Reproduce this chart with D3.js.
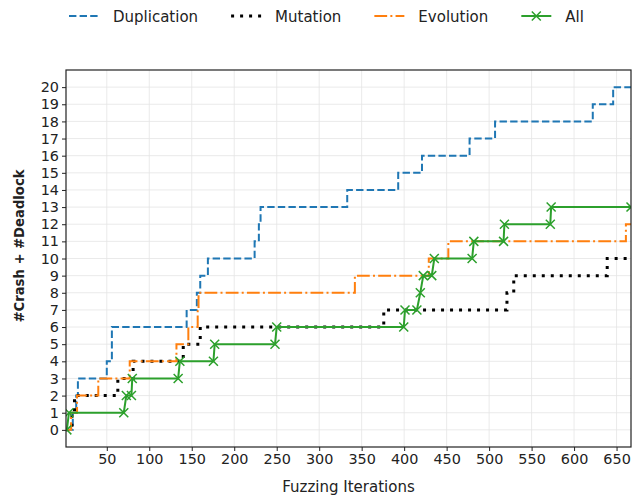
<!DOCTYPE html>
<html>
<head>
<meta charset="utf-8">
<script src="https://cdn.jsdelivr.net/npm/d3@7"></script>
<style>
  html, body { margin: 0; padding: 0; background: #fff; }
  svg { display: block; font-family: "DejaVu Sans", sans-serif; }
</style>
</head>
<body>
<svg id="chart" width="634" height="497"></svg>
<script>
// ---- Data ----
const seriesNames = ["Duplication", "Mutation", "Evolution", "All"];
const xTicks = [50, 100, 150, 200, 250, 300, 350, 400, 450, 500, 550, 600, 650];
const yTicks = d3.range(0, 21);

// step series: [iteration, cumulative count] change points
const duplication = [[2,0],[10,1],[14,2],[16,3],[50,4],[56,6],[144,7],[156,8],[160,9],[169,10],[224,11],[229,12],[231,13],[333,14],[393,15],[421,16],[477,17],[507,18],[622,19],[646,20],[667,20]];
const mutation = [[2,0],[9,1],[12,2],[63,3],[81,4],[140,5],[160,6],[376,7],[521,8],[529,9],[639,10],[667,10]];
const evolution = [[2,0],[8,1],[15,2],[40,3],[77,4],[132,5],[146,6],[157,7],[158,8],[342,9],[429,10],[452,11],[661,12],[667,12]];
// "All" drawn as a polyline through recorded points (markers on each)
const allRuns = [[3,0],[5.5,1],[70,1],[73,2],[79,2],[80,3],[134,3],[136,4],[175.5,4],[177,5],[248,5],[250,6],[399.5,6],[401,7],[415,7],[419,8],[422.5,9],[432.5,9],[435.5,10],[480,10],[482,11],[517,11],[518,12],[572,12],[573,13],[667,13]];

// ---- Layout ----
const svg = d3.select("#chart");
const L = 66, R = 631, T = 70, B = 447;
const x = d3.scaleLinear().domain([2, 667]).range([L, R]);
const y = d3.scaleLinear().domain([-1, 21]).range([B, T]);

const defs = svg.append("defs");
defs.append("clipPath").attr("id", "plotclip")
  .append("rect").attr("x", L).attr("y", T).attr("width", R - L).attr("height", B - T);

// grid
const grid = svg.append("g");
grid.selectAll("line.gx").data(xTicks).join("line")
  .attr("x1", d => x(d)).attr("x2", d => x(d)).attr("y1", T).attr("y2", B)
  .attr("stroke", "#e5e5e5").attr("stroke-width", 0.8);
grid.selectAll("line.gy").data(yTicks).join("line")
  .attr("x1", L).attr("x2", R).attr("y1", d => y(d)).attr("y2", d => y(d))
  .attr("stroke", "#e5e5e5").attr("stroke-width", 0.8);

// axes
const xAxis = d3.axisBottom(x).tickValues(xTicks).tickSize(4).tickPadding(3).tickSizeOuter(0);
const yAxis = d3.axisLeft(y).tickValues(yTicks).tickSize(4).tickPadding(3).tickSizeOuter(0);
const gx = svg.append("g").attr("transform", `translate(0,${B})`).call(xAxis);
const gy = svg.append("g").attr("transform", `translate(${L},0)`).call(yAxis);
[gx, gy].forEach(g => {
  g.select(".domain").remove();
  g.selectAll("text").attr("font-size", 14.4).attr("font-family", "DejaVu Sans").attr("fill", "#222");
  g.selectAll("line").attr("stroke", "#222").attr("stroke-width", 1);
});

// lines
const plot = svg.append("g").attr("clip-path", "url(#plotclip)");
const stepLine = d3.line().x(d => x(d[0])).y(d => y(d[1])).curve(d3.curveStepAfter);
const polyLine = d3.line().x(d => x(d[0])).y(d => y(d[1]));

const styles = {
  Duplication: { color: "#1f77b4", width: 2, dash: "7.4,3.2" },
  Mutation:    { color: "#000000", width: 3, dash: "3,6" },
  Evolution:   { color: "#ff7f0e", width: 2, dash: "12.8,3.2,2,3.2" },
  All:         { color: "#2ca02c", width: 2, dash: null }
};

[["Duplication", duplication], ["Mutation", mutation], ["Evolution", evolution]].forEach(([name, data]) => {
  const s = styles[name];
  plot.append("path").datum(data).attr("d", stepLine)
    .attr("fill", "none").attr("stroke", s.color).attr("stroke-width", s.width)
    .attr("stroke-dasharray", s.dash);
});

const sA = styles.All;
plot.append("path").datum(allRuns).attr("d", polyLine)
  .attr("fill", "none").attr("stroke", sA.color).attr("stroke-width", sA.width);
const mk = 4.5;
plot.selectAll("path.mk").data(allRuns).join("path")
  .attr("d", d => {
    const cx = x(d[0]), cy = y(d[1]);
    return `M${cx-mk},${cy-mk}L${cx+mk},${cy+mk}M${cx-mk},${cy+mk}L${cx+mk},${cy-mk}`;
  })
  .attr("stroke", sA.color).attr("stroke-width", 1.5).attr("fill", "none");

// frame
svg.append("rect").attr("x", L).attr("y", T).attr("width", R - L).attr("height", B - T)
  .attr("fill", "none").attr("stroke", "#222").attr("stroke-width", 1.2);

// axis labels
svg.append("text").attr("x", (L + R) / 2).attr("y", 492)
  .attr("text-anchor", "middle").attr("font-size", 15).attr("fill", "#222")
  .text("Fuzzing Iterations");
svg.append("text").attr("transform", `translate(24,246) rotate(-90)`)
  .attr("text-anchor", "middle").attr("font-size", 13.2).attr("font-weight", "bold").attr("fill", "#222")
  .text("#Crash + #Deadlock");

// legend
const leg = svg.append("g");
let lx = 69;
const ly = 16;
seriesNames.forEach(name => {
  const s = styles[name];
  leg.append("line").attr("x1", lx).attr("x2", lx + 30).attr("y1", ly).attr("y2", ly)
    .attr("stroke", s.color).attr("stroke-width", s.width).attr("stroke-dasharray", s.dash);
  if (name === "All") {
    const cx = lx + 15;
    leg.append("path").attr("d", `M${cx-mk},${ly-mk}L${cx+mk},${ly+mk}M${cx-mk},${ly+mk}L${cx+mk},${ly-mk}`)
      .attr("stroke", s.color).attr("stroke-width", 1.5);
  }
  const t = leg.append("text").attr("x", lx + 44).attr("y", ly + 5.5)
    .attr("font-size", 15).attr("fill", "#222").text(name);
  lx += 44 + t.node().getComputedTextLength() + 33;
});
</script>
</body>
</html>
